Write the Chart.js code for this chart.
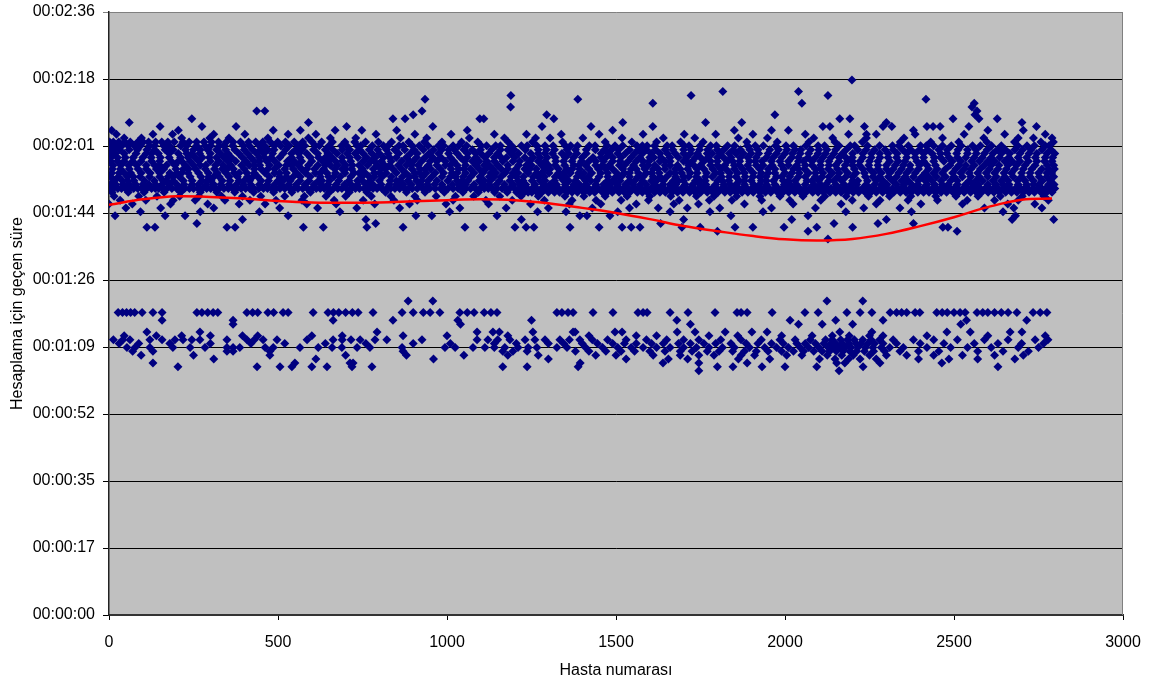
<!DOCTYPE html>
<html>
<head>
<meta charset="utf-8">
<script src="https://cdn.jsdelivr.net/npm/chart.js@4.4.1/dist/chart.umd.min.js"></script>
<style>
  html, body { margin: 0; padding: 0; background: #fff; }
  #kutu { width: 1152px; height: 683px; }
</style>
</head>
<body>
<div id="kutu"><canvas id="grafik"></canvas></div>
<script>
// Y ekseni: süre (saniye) ve etiketleri
const sureDegerleri = [0, 17.28, 34.56, 51.84, 69.12, 86.4, 103.68, 120.96, 138.24, 155.52];
const sureEtiketleri = ['00:00:00', '00:00:17', '00:00:35', '00:00:52', '00:01:09', '00:01:26', '00:01:44', '00:02:01', '00:02:18', '00:02:36'];
const hastaEtiketleri = [0, 500, 1000, 1500, 2000, 2500, 3000];

// Üst küme: her süre seviyesi (sn) için o süreyi alan hasta numaraları
const ustSeviyeler = [138, 135, 134, 133, 132, 131, 130, 129, 128, 127, 126, 125, 124, 123, 122, 121, 120, 119, 118, 117, 116, 115, 114, 113, 112, 111, 110, 109, 108, 107, 106, 105, 104, 103, 102, 101, 100, 99, 97];
const ustHastalar = [
  [2198],
  [1816, 2040],
  [1189, 1722, 2127],
  [935, 1387, 2417],
  [1609, 2050, 2560],
  [2553, 1188],
  [437, 461, 926, 2568],
  [900, 1970, 2562, 1295],
  [245, 876, 1097, 1109, 2162, 2192, 2497, 1316, 2574, 2628, 840],
  [60, 590, 1520, 1765, 1872, 2300, 2701],
  [151, 275, 376, 703, 958, 1281, 1426, 1609, 2112, 2133, 2235, 2290, 2316, 2420, 2438, 2459, 2544, 2744],
  [8, 205, 486, 566, 669, 748, 851, 1060, 1490, 1850, 1960, 2010, 2380, 2600, 2705],
  [22, 130, 188, 310, 402, 530, 612, 790, 905, 1012, 1140, 1235, 1338, 1450, 1580, 1702, 1795, 1905, 2060, 2188, 2241, 2270, 2385, 2530, 2650, 2770],
  [45, 96, 215, 298, 355, 470, 590, 655, 730, 862, 940, 1066, 1170, 1262, 1305, 1402, 1518, 1640, 1733, 1862, 1948, 2085, 2141, 2241, 2352, 2466, 2588, 2690, 2735, 2790],
  [2, 13, 29, 47, 63, 85, 101, 117, 138, 156, 174, 193, 219, 237, 259, 281, 303, 324, 347, 367, 389, 413, 434, 455, 477, 499, 522, 548, 573, 601, 629, 661, 698, 727, 759, 797, 836, 887, 933, 985, 1043, 1091, 1181, 1253, 1342, 1468, 1547, 1620, 1691, 1758, 1887, 1977, 2071, 2148, 2229, 2341, 2431, 2514, 2597, 2679, 2757, 2794],
  [4, 38, 75, 120, 162, 230, 284, 340, 398, 445, 508, 560, 622, 688, 745, 812, 870, 918, 975, 1035, 1101, 1158, 1220, 1290, 1366, 1421, 1497, 1562, 1592, 1651, 1716, 1780, 1830, 1912, 2003, 2117, 2206, 2318, 2401, 2440, 2492, 2555, 2611, 2716, 2781,
   20, 57, 93, 135, 178, 212, 259, 301, 327, 366, 415, 460, 489, 533, 579, 610, 651, 703, 734, 779, 826, 858, 897, 944, 990, 1018, 1058, 1117, 1144, 1191, 1237, 1266, 1314, 1350, 1386, 1438, 1474, 1520, 1578, 1614, 1666, 1702, 1749, 1797, 1851, 1889, 1936, 1972, 2025, 2062, 2098, 2160, 2193, 2244, 2280, 2337, 2365, 2418, 2466, 2521, 2578, 2640, 2689, 2738, 2770],
  [10, 60, 112, 166, 250, 292, 372, 425, 488, 552, 640, 712, 770, 845, 902, 960, 1022, 1075, 1132, 1199, 1270, 1355, 1439, 1508, 1590, 1668, 1747, 1819, 1896, 1981, 2047, 2124, 2215, 2296, 2372, 2455, 2540, 2628, 2703, 2787,
   31, 84, 135, 190, 226, 270, 318, 345, 400, 448, 470, 522, 571, 605, 662, 690, 741, 795, 821, 875, 930, 984, 1005, 1050, 1099, 1158, 1180, 1232, 1294, 1318, 1380, 1412, 1466, 1487, 1540, 1566, 1617, 1645, 1700, 1722, 1771, 1800, 1847, 1868, 1920, 1955, 2006, 2030, 2076, 2100, 2150, 2181, 2240, 2265, 2320, 2348, 2398, 2422, 2480, 2512, 2565, 2598, 2652, 2680, 2728, 2760],
  [18, 80, 146, 205, 268, 330, 384, 458, 515, 585, 648, 705, 778, 826, 892, 947, 1005, 1061, 1124, 1190, 1248, 1312, 1384, 1456, 1528, 1604, 1675, 1741, 1808, 1877, 1950, 2022, 2098, 2170, 2256, 2332, 2410, 2479, 2566, 2640, 2722, 2798,
   2, 45, 110, 126, 178, 230, 246, 300, 352, 410, 437, 484, 540, 562, 617, 675, 728, 752, 800, 857, 912, 975, 1030, 1085, 1100, 1150, 1212, 1270, 1290, 1340, 1360, 1412, 1478, 1505, 1555, 1578, 1630, 1652, 1700, 1720, 1770, 1785, 1835, 1855, 1900, 1922, 1975, 2000, 2045, 2070, 2120, 2145, 2200, 2230, 2280, 2305, 2360, 2385, 2435, 2460, 2508, 2540, 2590, 2615, 2665, 2695, 2745, 2775],
  [6, 48, 100, 152, 212, 276, 318, 362, 420, 480, 540, 596, 660, 736, 788, 850, 910, 982, 1040, 1112, 1176, 1230, 1296, 1374, 1432, 1490, 1570, 1633, 1709, 1772, 1840, 1915, 1990, 2068, 2136, 2199, 2281, 2360, 2442, 2510, 2584, 2662, 2741, 2792,
   25, 72, 125, 178, 234, 255, 297, 340, 395, 445, 460, 505, 565, 620, 640, 690, 712, 762, 812, 830, 880, 935, 958, 1010, 1060, 1085, 1140, 1160, 1200, 1255, 1275, 1320, 1350, 1400, 1455, 1470, 1515, 1545, 1600, 1612, 1660, 1685, 1735, 1750, 1800, 1818, 1868, 1890, 1945, 1965, 2020, 2040, 2090, 2112, 2160, 2180, 2230, 2255, 2305, 2330, 2385, 2410, 2460, 2485, 2535, 2560, 2610, 2635, 2690, 2715, 2770],
  [25, 70, 126, 184, 240, 300, 352, 405, 467, 528, 570, 632, 690, 752, 806, 866, 925, 995, 1052, 1118, 1165, 1244, 1322, 1398, 1463, 1536, 1598, 1660, 1726, 1800, 1866, 1932, 2010, 2080, 2160, 2222, 2310, 2390, 2470, 2552, 2620, 2695, 2768,
   5, 45, 95, 150, 205, 215, 265, 325, 375, 430, 445, 490, 548, 600, 650, 670, 715, 775, 785, 835, 890, 900, 950, 970, 1020, 1075, 1095, 1140, 1195, 1215, 1270, 1290, 1345, 1370, 1420, 1440, 1490, 1512, 1560, 1580, 1630, 1645, 1700, 1710, 1760, 1780, 1830, 1845, 1895, 1912, 1960, 1985, 2040, 2055, 2105, 2130, 2185, 2200, 2250, 2275, 2335, 2355, 2410, 2440, 2495, 2520, 2575, 2600, 2650, 2672, 2720, 2745, 2790],
  [12, 58, 110, 170, 226, 286, 338, 392, 446, 502, 560, 618, 676, 740, 794, 856, 915, 970, 1030, 1085, 1150, 1212, 1280, 1348, 1410, 1480, 1552, 1615, 1682, 1750, 1822, 1890, 1962, 2035, 2105, 2178, 2248, 2326, 2398, 2488, 2560, 2633, 2710, 2776,
   35, 82, 135, 150, 195, 250, 270, 315, 360, 415, 430, 475, 525, 540, 590, 640, 655, 700, 720, 765, 815, 830, 880, 895, 945, 995, 1010, 1055, 1110, 1125, 1180, 1235, 1250, 1300, 1320, 1375, 1390, 1440, 1460, 1510, 1525, 1580, 1595, 1645, 1660, 1715, 1730, 1780, 1800, 1850, 1865, 1915, 1935, 1990, 2010, 2060, 2080, 2130, 2150, 2200, 2220, 2275, 2300, 2350, 2370, 2420, 2445, 2515, 2535, 2590, 2610, 2660, 2685, 2740, 2795],
  [34, 86, 140, 198, 256, 312, 368, 430, 490, 545, 608, 668, 718, 782, 840, 896, 952, 1012, 1070, 1136, 1204, 1264, 1330, 1392, 1448, 1520, 1585, 1645, 1712, 1786, 1850, 1925, 1996, 2058, 2128, 2205, 2275, 2345, 2425, 2505, 2578, 2655, 2730, 2797,
   10, 60, 110, 162, 220, 235, 285, 335, 350, 400, 450, 470, 520, 570, 585, 635, 690, 700, 750, 805, 818, 865, 920, 935, 980, 1035, 1050, 1095, 1115, 1160, 1180, 1230, 1245, 1290, 1305, 1355, 1370, 1420, 1470, 1490, 1545, 1560, 1610, 1625, 1675, 1690, 1740, 1760, 1810, 1825, 1875, 1895, 1950, 1970, 2025, 2040, 2090, 2105, 2155, 2175, 2230, 2250, 2300, 2320, 2370, 2395, 2450, 2475, 2530, 2550, 2605, 2630, 2680, 2705, 2760, 2780],
  [8, 64, 122, 180, 234, 294, 346, 408, 462, 525, 582, 645, 698, 758, 820, 878, 938, 990, 1055, 1106, 1172, 1240, 1302, 1365, 1428, 1502, 1566, 1628, 1694, 1768, 1836, 1906, 1970, 2042, 2112, 2186, 2262, 2336, 2415, 2496, 2570, 2648, 2725, 2789,
   30, 45, 95, 150, 200, 215, 265, 320, 370, 385, 430, 490, 505, 555, 610, 625, 670, 725, 740, 785, 800, 850, 905, 920, 965, 1015, 1030, 1080, 1130, 1145, 1195, 1210, 1265, 1280, 1330, 1345, 1390, 1405, 1455, 1475, 1525, 1540, 1590, 1605, 1660, 1675, 1720, 1740, 1795, 1810, 1860, 1880, 1930, 1950, 2000, 2020, 2070, 2090, 2140, 2160, 2210, 2235, 2285, 2310, 2360, 2385, 2440, 2465, 2520, 2545, 2595, 2620, 2670, 2700, 2750, 2775],
  [28, 92, 150, 208, 272, 326, 380, 440, 505, 566, 625, 684, 748, 808, 868, 928, 985, 1048, 1098, 1160, 1226, 1288, 1352, 1418, 1476, 1540, 1610, 1676, 1738, 1812, 1882, 1944, 2014, 2090, 2156, 2238, 2306, 2380, 2448, 2525, 2600, 2675, 2752,
   5, 55, 72, 120, 175, 190, 240, 295, 310, 355, 410, 425, 475, 525, 545, 595, 650, 665, 715, 770, 785, 835, 890, 905, 955, 1010, 1025, 1070, 1125, 1140, 1190, 1205, 1255, 1270, 1320, 1335, 1385, 1400, 1450, 1500, 1515, 1565, 1580, 1630, 1650, 1700, 1715, 1765, 1785, 1835, 1855, 1905, 1925, 1975, 1990, 2040, 2060, 2110, 2130, 2180, 2200, 2260, 2280, 2330, 2355, 2405, 2425, 2475, 2500, 2550, 2575, 2625, 2650, 2700, 2725, 2775, 2795],
  [16, 74, 134, 190, 246, 302, 358, 416, 472, 536, 592, 652, 710, 772, 832, 884, 944, 1002, 1062, 1128, 1186, 1252, 1318, 1380, 1442, 1512, 1578, 1640, 1700, 1764, 1834, 1900, 1966, 2030, 2100, 2168, 2244, 2318, 2394, 2462, 2545, 2615, 2688, 2762,
   40, 55, 105, 160, 170, 220, 275, 290, 335, 385, 400, 450, 500, 515, 565, 620, 630, 680, 735, 750, 800, 850, 860, 910, 925, 970, 1030, 1045, 1095, 1110, 1155, 1210, 1225, 1275, 1290, 1345, 1360, 1410, 1425, 1475, 1490, 1540, 1555, 1605, 1620, 1670, 1685, 1735, 1750, 1800, 1815, 1865, 1880, 1930, 1945, 1995, 2010, 2065, 2080, 2130, 2145, 2200, 2215, 2270, 2290, 2345, 2365, 2415, 2435, 2490, 2510, 2565, 2585, 2640, 2660, 2710, 2735, 2785],
  [3, 41, 79, 118, 157, 201, 246, 288, 331, 377, 419, 468, 509, 554, 607, 648, 697, 735, 781, 830, 871, 922, 963, 1016, 1055, 1107, 1146, 1196, 1233, 1286, 1324, 1375, 1411, 1463, 1502, 1551, 1590, 1639, 1677, 1727, 1766, 1819, 1855, 1907, 1945, 1998, 2034, 2085, 2121, 2175, 2212, 2265, 2302, 2353, 2393, 2443, 2483, 2534, 2572, 2625, 2663, 2715, 2751, 2796,
   20, 60, 100, 138, 180, 222, 265, 310, 355, 398, 445, 490, 532, 580, 628, 672, 716, 760, 805, 850, 895, 942, 985, 1035, 1080, 1125, 1170, 1215, 1260, 1305, 1350, 1392, 1440, 1482, 1528, 1572, 1615, 1660, 1705, 1748, 1795, 1838, 1880, 1925, 1970, 2015, 2060, 2105, 2150, 2195, 2240, 2285, 2330, 2375, 2420, 2465, 2510, 2555, 2600, 2645, 2690, 2735, 2780],
  [1, 26, 49, 73, 97, 126, 147, 171, 200, 224, 250, 277, 301, 326, 353, 378, 404, 429, 457, 481, 506, 535, 559, 587, 613, 637, 664, 689, 717, 741, 769, 793, 821, 846, 874, 897, 928, 949, 981, 1003, 1033, 1056, 1084, 1110, 1133, 1163, 1185, 1214, 1238, 1265, 1293, 1316, 1345, 1368, 1397, 1420, 1448, 1474, 1500, 1523, 1553, 1576, 1604, 1627, 1657, 1679, 1708, 1732, 1760, 1784, 1813, 1836, 1864, 1888, 1917, 1939, 1969, 1991, 2021, 2044, 2073, 2096, 2125, 2148, 2177, 2200, 2229, 2252, 2281, 2303, 2333, 2355, 2384, 2408, 2436, 2460, 2489, 2511, 2541, 2563, 2592, 2616, 2644, 2667, 2697, 2719, 2748, 2771, 2798,
   13, 37, 61, 85, 112, 137, 160, 186, 212, 238, 264, 289, 314, 340, 366, 391, 416, 443, 469, 494, 520, 547, 573, 600, 625, 650, 677, 703, 729, 755, 781, 807, 833, 860, 886, 912, 938, 965, 992, 1018, 1044, 1070, 1097, 1122, 1148, 1174, 1200, 1226, 1252, 1279, 1305, 1330, 1356, 1382, 1408, 1434, 1461, 1487, 1512, 1538, 1564, 1590, 1616, 1642, 1668, 1694, 1720, 1746, 1772, 1798, 1824, 1850, 1876, 1902, 1928, 1954, 1980, 2006, 2032, 2058, 2084, 2110, 2136, 2162, 2188, 2214, 2240, 2266, 2292, 2318, 2344, 2370, 2396, 2422, 2448, 2474, 2500, 2526, 2552, 2578, 2604, 2630, 2656, 2682, 2708, 2734, 2760, 2786],
  [9, 57, 104, 163, 212, 270, 319, 372, 428, 487, 541, 596, 652, 711, 763, 818, 880, 935, 992, 1047, 1093, 1141, 1178, 1206, 1229, 1251, 1281, 1300, 1333, 1355, 1386, 1405, 1437, 1460, 1489, 1509, 1541, 1563, 1593, 1614, 1646, 1666, 1698, 1718, 1751, 1770, 1802, 1822, 1855, 1873, 1906, 1926, 1958, 1978, 2011, 2029, 2062, 2082, 2114, 2133, 2166, 2185, 2218, 2237, 2270, 2289, 2322, 2341, 2374, 2393, 2426, 2445, 2478, 2497, 2530, 2549, 2582, 2601, 2634, 2653, 2686, 2705, 2738, 2757, 2790,
   1218, 1240, 1266, 1318, 1370, 1422, 1474, 1525, 1578, 1630, 1682, 1734, 1786, 1838, 1890, 1942, 1994, 2046, 2098, 2150, 2202, 2254, 2306, 2358, 2410, 2462, 2514, 2566, 2618, 2670, 2722, 2774],
  [15, 88, 142, 209, 266, 333, 395, 449, 520, 578, 642, 700, 776, 834, 905, 968, 1025, 1079, 1156, 1219, 1270, 1349, 1405, 1468, 1533, 1600, 1662, 1738, 1790, 1857, 1926, 1985, 2053, 2118, 2181, 2247, 2309, 2372, 2446, 2506, 2571, 2637, 2702, 2766],
  [33, 109, 190, 255, 343, 417, 494, 571, 666, 752, 843, 912, 1018, 1115, 1193, 1288, 1370, 1441, 1515, 1596, 1687, 1776, 1843, 1931, 2014, 2106, 2199, 2281, 2364, 2451, 2539, 2620, 2690, 2779],
  [0, 69, 182, 292, 385, 462, 585, 672, 786, 889, 997, 1123, 1247, 1362, 1455, 1560, 1671, 1744, 1880, 2024, 2166, 2270, 2402, 2525, 2659, 2739],
  [50, 153, 310, 505, 617, 733, 860, 1038, 1175, 1300, 1430, 1540, 1625, 1711, 1807, 1960, 2090, 2233, 2340, 2590, 2677, 2760],
  [93, 270, 445, 683, 1008, 1268, 1352, 1505, 1660, 1778, 1935, 2180, 2374, 2645],
  [18, 166, 225, 530, 908, 955, 1148, 1393, 1414, 1482, 1840, 2068, 2682],
  [395, 760, 1220, 1700, 2020, 2300, 2672, 2795],
  [260, 789, 1632, 2145, 2275, 2380],
  [112, 136, 349, 373, 575, 634, 763, 870, 1053, 1107, 1201, 1234, 1257, 1364, 1450, 1518, 1545, 1571, 1695, 1749, 1852, 1905, 1997, 2094, 2200, 2467, 2482],
  [1800, 2068, 2509],
  [2127]
];

// Alt küme
const altSeviyeler = [81, 78, 76, 75, 73, 72, 71, 70, 69, 68, 67, 66, 65, 64, 63];
const altHastalar = [
  [885, 958, 2124, 2230],
  [27, 40, 52, 64, 76, 98, 130, 157, 260, 275, 292, 308, 322, 408, 425, 440, 470, 487, 515, 530, 604, 648, 664, 680, 700, 720, 737, 781, 867, 900, 930, 950, 979, 1038, 1060, 1080, 1110, 1130, 1148, 1325, 1340, 1358, 1373, 1432, 1491, 1565, 1580, 1592, 1660, 1713, 1793, 1858, 1870, 1888, 1962, 2059, 2098, 2183, 2222, 2257, 2311, 2330, 2345, 2360, 2385, 2399, 2449, 2465, 2480, 2500, 2518, 2533, 2568, 2585, 2600, 2620, 2640, 2660, 2686, 2734, 2755, 2775],
  [157, 367, 663, 840, 1032, 1250, 1680, 2015, 2150, 2290, 2537, 2715],
  [367, 1040, 1720, 2040, 2110, 2200, 2520],
  [112, 269, 793, 1089, 1136, 1155, 1254, 1373, 1379, 1497, 1518, 1681, 1734, 1823, 1902, 1947, 2162, 2257, 2479, 2548, 2666, 2701],
  [45, 140, 215, 300, 395, 440, 600, 690, 870, 1000, 1180, 1420, 1560, 1620, 1775, 1860, 1990, 2080, 2140, 2190, 2250, 2290, 2420, 2600, 2770],
  [13, 41, 62, 121, 157, 195, 219, 245, 269, 349, 408, 430, 456, 497, 586, 663, 690, 716, 743, 787, 822, 926, 1089, 1121, 1150, 1186, 1231, 1260, 1290, 1334, 1362, 1393, 1430, 1475, 1530, 1590, 1650, 1700, 1745, 1810, 1870, 1930, 1985, 2030, 2075, 2120, 2140, 2165, 2185, 2205, 2230, 2255, 2280, 2320, 2380, 2440, 2510, 2590, 2660, 2740, 2778],
  [30, 88, 180, 300, 420, 520, 640, 760, 900, 1010, 1140, 1205, 1300, 1345, 1400, 1445, 1490, 1525, 1560, 1605, 1640, 1685, 1720, 1760, 1795, 1840, 1885, 1920, 1960, 1995, 2035, 2060, 2090, 2115, 2135, 2150, 2170, 2190, 2210, 2225, 2245, 2265, 2290, 2330, 2400, 2470, 2560, 2630, 2700, 2765],
  [53, 77, 121, 189, 240, 284, 349, 367, 387, 462, 486, 565, 619, 660, 689, 734, 772, 867, 994, 1024, 1077, 1112, 1140, 1171, 1210, 1240, 1266, 1325, 1355, 1410, 1460, 1505, 1545, 1580, 1620, 1660, 1700, 1738, 1775, 1815, 1850, 1895, 1940, 1975, 2010, 2045, 2070, 2100, 2128, 2145, 2160, 2178, 2195, 2215, 2238, 2260, 2285, 2310, 2350, 2420, 2490, 2540, 2610, 2690, 2750],
  [70, 130, 349, 367, 476, 870, 1165, 1195, 1237, 1380, 1420, 1470, 1515, 1555, 1600, 1645, 1690, 1725, 1770, 1805, 1845, 1880, 1915, 1950, 1990, 2025, 2055, 2085, 2110, 2132, 2152, 2172, 2192, 2212, 2235, 2262, 2295, 2340, 2395, 2455, 2570, 2645, 2720],
  [95, 250, 476, 700, 880, 1050, 1180, 1270, 1440, 1500, 1610, 1690, 1745, 1790, 1870, 1910, 2005, 2050, 2125, 2168, 2202, 2250, 2300, 2360, 2440, 2525, 2620, 2705],
  [310, 612, 960, 1300, 1530, 1655, 1712, 1862, 1955, 2102, 2148, 2188, 2222, 2270, 2395, 2485, 2570, 2680],
  [130, 550, 713, 722, 1394, 1639, 1745, 1888, 2153, 2177, 2281, 2464],
  [204, 438, 506, 541, 600, 645, 719, 778, 1165, 1237, 1388, 1800, 1846, 1932, 2000, 2094, 2231, 2630],
  [1745, 2160]
];

// Eğilim çizgisi (polinom)
const trendHasta = [0, 100, 200, 300, 400, 500, 600, 700, 800, 900, 1000, 1100, 1200, 1300, 1400, 1500, 1600, 1700, 1800, 1900, 2000, 2100, 2200, 2300, 2400, 2500, 2600, 2700, 2790];
const trendSure = [105.8, 107.2, 108.0, 107.8, 107.4, 106.8, 106.4, 106.3, 106.4, 106.7, 107.0, 107.2, 107.0, 106.2, 105.0, 103.7, 102.1, 100.3, 99.0, 97.8, 96.9, 96.6, 97.0, 98.3, 100.3, 102.6, 105.2, 107.1, 107.4];

function noktalariKur(seviyeler, hastalar) {
  const noktalar = [];
  seviyeler.forEach((s, i) => {
    hastalar[i].forEach(h => noktalar.push({ x: h, y: s }));
  });
  return noktalar;
}

const trendNoktalari = trendHasta.map((h, i) => ({ x: h, y: trendSure[i] }));

const yazi = { family: "'Liberation Sans', Arial, sans-serif", size: 16 };

const arkaPlan = {
  id: 'arkaPlan',
  beforeDraw(chart) {
    const a = chart.chartArea;
    const ctx = chart.ctx;
    ctx.save();
    ctx.fillStyle = '#C0C0C0';
    ctx.fillRect(a.left, a.top, a.right - a.left, a.bottom - a.top);
    ctx.restore();
  },
  beforeDatasetsDraw(chart) {
    const a = chart.chartArea;
    const ctx = chart.ctx;
    ctx.save();
    ctx.strokeStyle = '#808080';
    ctx.lineWidth = 1;
    ctx.beginPath();
    ctx.moveTo(a.right - 0.5, a.top);
    ctx.lineTo(a.right - 0.5, a.bottom);
    ctx.stroke();
    ctx.restore();
  }
};

new Chart(document.getElementById('grafik'), {
  type: 'scatter',
  data: {
    datasets: [
      {
        type: 'line',
        label: 'Eğilim',
        data: trendNoktalari,
        borderColor: '#FF0000',
        borderWidth: 2.5,
        pointRadius: 0,
        tension: 0.4,
        fill: false,
        order: 0
      },
      {
        label: 'Üst',
        data: noktalariKur(ustSeviyeler, ustHastalar),
        pointStyle: 'rectRot',
        pointRadius: 4.5,
        backgroundColor: '#000080',
        borderColor: '#000080',
        borderWidth: 0,
        order: 1
      },
      {
        label: 'Alt',
        data: noktalariKur(altSeviyeler, altHastalar),
        pointStyle: 'rectRot',
        pointRadius: 4.5,
        backgroundColor: '#000080',
        borderColor: '#000080',
        borderWidth: 0,
        order: 1
      }
    ]
  },
  options: {
    responsive: true,
    maintainAspectRatio: false,
    animation: false,
    layout: { padding: { left: 4, right: 29, top: 12, bottom: 0 } },
    plugins: { legend: { display: false }, tooltip: { enabled: false } },
    scales: {
      x: {
        type: 'linear',
        min: 0,
        max: 3000,
        afterBuildTicks: s => { s.ticks = hastaEtiketleri.map(v => ({ value: v })); },
        ticks: { padding: 13, color: '#000', font: yazi, maxRotation: 0, autoSkip: false, callback: v => String(v) },
        grid: { drawOnChartArea: false, drawTicks: true, tickLength: 5, color: '#000' },
        border: { color: '#333', width: 2 },
        title: { display: true, text: 'Hasta numarası', color: '#000', font: yazi, padding: { top: 4, bottom: 3 } },
        afterFit: s => { s.height = 68; s.paddingLeft = 0; s.paddingRight = 0; }
      },
      y: {
        min: 0,
        max: 155.52,
        afterBuildTicks: s => { s.ticks = sureDegerleri.map(v => ({ value: v })); },
        ticks: { autoSkip: false, padding: 8, color: '#000', font: yazi, callback: (v, i) => sureEtiketleri[i] },
        grid: { color: c => (c.tick && c.tick.value > 150 ? '#808080' : '#000'), lineWidth: 1, tickLength: 6 },
        border: { color: '#222', width: 1.5 },
        title: { display: true, text: 'Hesaplama için geçen süre', color: '#000', font: yazi, padding: { top: 4, bottom: 4 } },
        afterFit: s => { s.width = 105; s.paddingTop = 0; s.paddingBottom = 0; }
      }
    }
  },
  plugins: [arkaPlan]
});
</script>
</body>
</html>
